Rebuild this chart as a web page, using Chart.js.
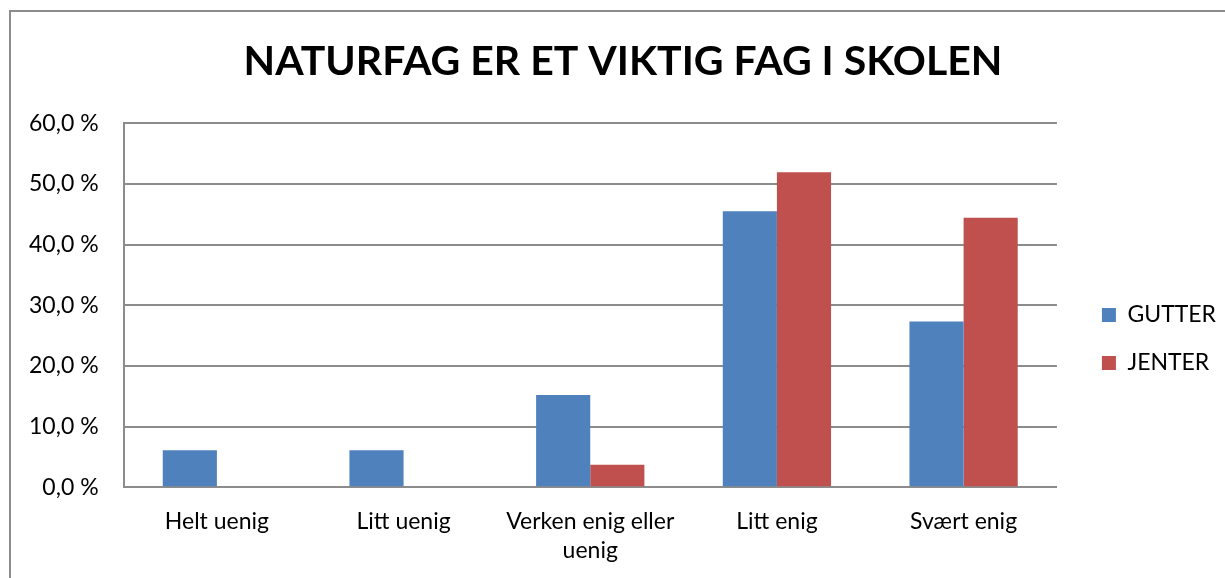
<!DOCTYPE html>
<html>
<head>
<meta charset="utf-8">
<script src="https://cdn.jsdelivr.net/npm/chart.js@4"></script>
<style>
  html, body { margin: 0; padding: 0; background: #fff; overflow: hidden; }
  #wrap { position: absolute; left: 0; top: 0; width: 1225px; height: 578px; }
</style>
</head>
<body>
<div id="wrap"><canvas id="grafikk"></canvas></div>
<script>
// Data lest av bildet
const kategorier = ['Helt uenig', 'Litt uenig', ['Verken enig eller', 'uenig'], 'Litt enig', 'Svært enig'];
const gutter = [6.1, 6.1, 15.2, 45.5, 27.3];
const jenter = [0, 0, 3.7, 51.9, 44.4];
const yTicks = [0, 10, 20, 30, 40, 50, 60];

// Ramme rundt diagrammet
const ramme = {
    id: 'ramme',
    beforeDraw(chart) {
        const ctx = chart.ctx;
        ctx.save();
        ctx.fillStyle = '#fff';
        ctx.fillRect(0, 0, chart.width, chart.height);
        ctx.strokeStyle = '#8c8c8c';
        ctx.lineWidth = 2;
        ctx.strokeRect(10, 11, chart.width + 20, chart.height + 20);
        ctx.restore();
    }
};

// Flytt tittel og forklaring litt til høyre
const flytt = {
    id: 'flytt',
    afterLayout(chart) {
        chart.legend.left += 20;
        chart.legend.right += 20;
        chart.titleBlock.left += 18;
        chart.titleBlock.right += 18;
    }
};

const ctx = document.getElementById('grafikk').getContext('2d');
new Chart(ctx, {
    type: 'bar',
    data: {
        labels: kategorier,
        datasets: [
            {
                label: 'GUTTER',
                data: gutter,
                backgroundColor: '#4f81bd'
            },
            {
                label: 'JENTER',
                data: jenter,
                backgroundColor: '#c0504d'
            }
        ]
    },
    options: {
        responsive: true,
        maintainAspectRatio: false,
        animation: false,
        layout: {
            padding: { left: 4, right: 19, top: 37, bottom: -7 }
        },
        datasets: {
            bar: {
                categoryPercentage: 0.58,
                barPercentage: 1.0
            }
        },
        scales: {
            y: {
                min: 0,
                max: 60,
                afterBuildTicks: (axis) => {
                    axis.ticks = yTicks.map(v => ({ value: v }));
                },
                ticks: {
                    color: '#000',
                    font: { family: 'Lato', size: 23 },
                    padding: 25,
                    callback: (v) => v.toFixed(1).replace('.', ',') + ' %'
                },
                grid: {
                    color: '#8c8c8c',
                    lineWidth: 2,
                    drawTicks: false
                },
                border: { color: '#8c8c8c', width: 2 }
            },
            x: {
                ticks: {
                    color: '#000',
                    font: { family: 'Lato', size: 23, lineHeight: 1.3 },
                    padding: 19,
                    maxRotation: 0,
                    autoSkip: false
                },
                grid: { display: false, drawTicks: false },
                border: { color: '#8c8c8c', width: 2 }
            }
        },
        plugins: {
            title: {
                display: true,
                text: 'NATURFAG ER ET VIKTIG FAG I SKOLEN',
                color: '#000',
                font: { family: 'Lato', size: 41, weight: 'bold' },
                padding: { top: 0, bottom: 37 }
            },
            legend: {
                position: 'right',
                title: {
                    display: true,
                    text: ' ',
                    font: { size: 20 },
                    padding: { top: 0, bottom: 32 }
                },
                labels: {
                    color: '#000',
                    font: { family: 'Lato', size: 23 },
                    boxWidth: 14,
                    boxHeight: 14,
                    padding: 25
                }
            },
            tooltip: { enabled: false }
        }
    },
    plugins: [ramme, flytt]
});
</script>
</body>
</html>
